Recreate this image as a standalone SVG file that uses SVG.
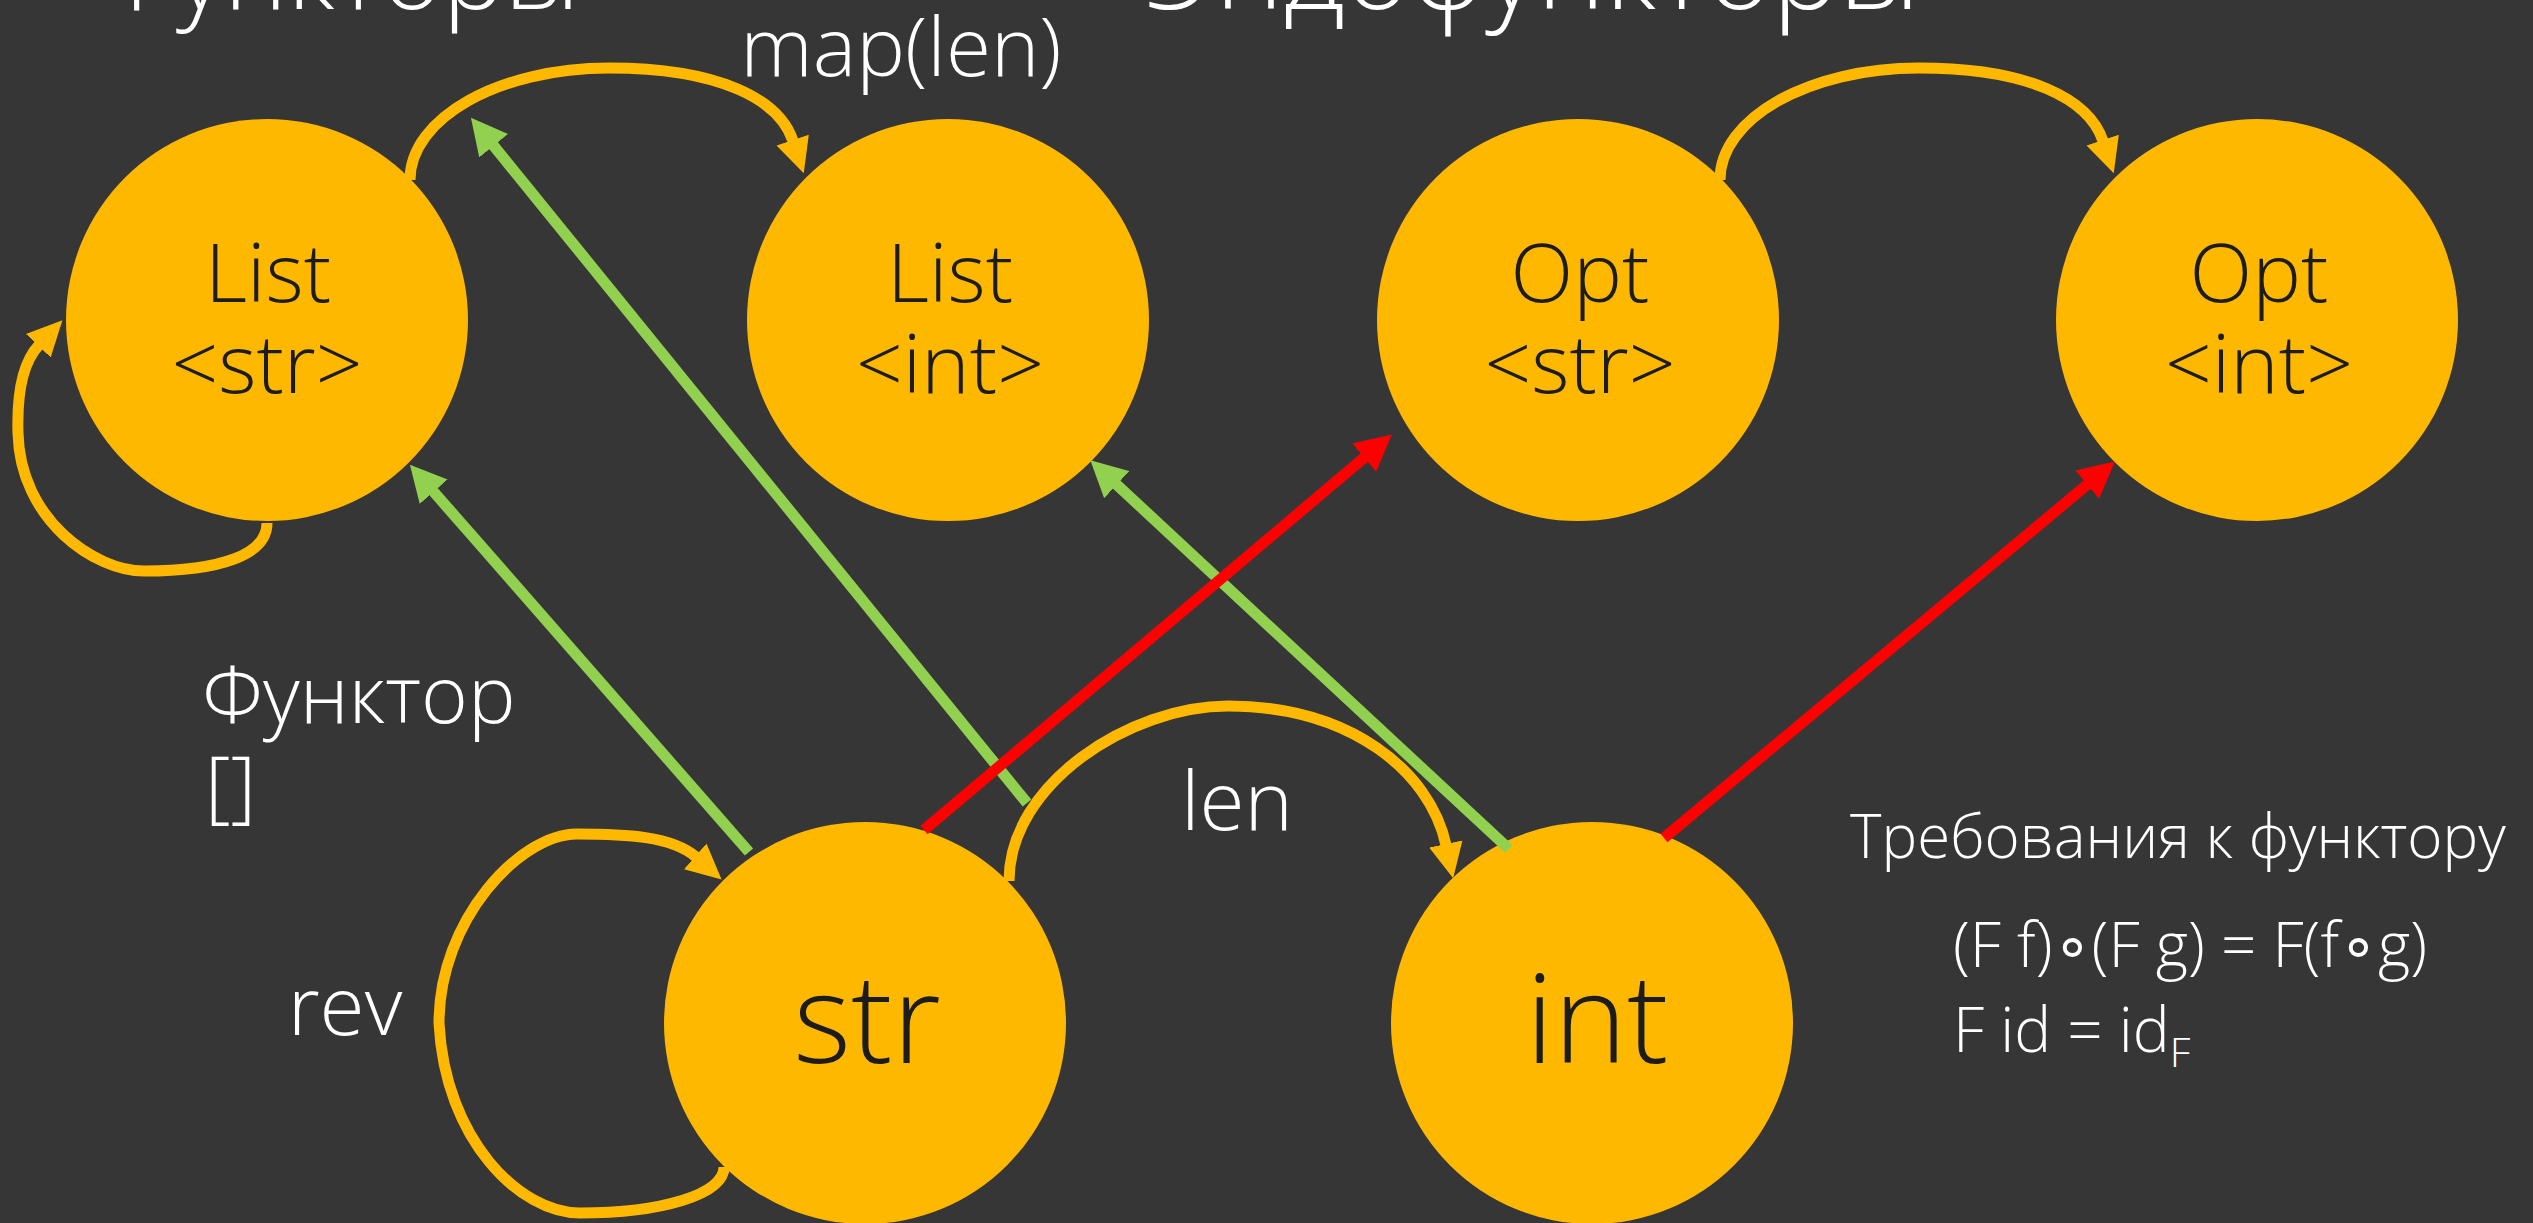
<svg xmlns="http://www.w3.org/2000/svg" width="2533" height="1223" viewBox="0 0 2533 1223">
  <style>
    .bg { fill: #363636; }
    .node { fill: #FFB800; }
    .ntext { fill: #1C1C1C; font-family: "Open Sans", "Noto Sans", "Liberation Sans", sans-serif; font-weight: 300; text-anchor: middle; }
    .label { fill: #FFFFFF; font-family: "Open Sans", "Noto Sans", "Liberation Sans", sans-serif; font-weight: 300; }
    .arc { fill: none; stroke: #FFB800; stroke-width: 11; }
    .fmap { fill: none; stroke: #92D050; stroke-width: 11; }
    .endo { fill: none; stroke: #FF0000; stroke-width: 11; }
  </style>
  <defs>
    <marker id="head-orange" viewBox="0 -18 36 36" markerUnits="userSpaceOnUse" markerWidth="36" markerHeight="36" refX="1" refY="0" orient="auto">
      <path d="M0,-17 L35,0 L0,17 Z" fill="#FFB800"/>
    </marker>
    <marker id="head-green" viewBox="0 -19 37 38" markerUnits="userSpaceOnUse" markerWidth="37" markerHeight="38" refX="1" refY="0" orient="auto">
      <path d="M0,-18.5 L36,0 L0,18.5 Z" fill="#92D050"/>
    </marker>
    <marker id="head-red" viewBox="0 -19 37 38" markerUnits="userSpaceOnUse" markerWidth="37" markerHeight="38" refX="1" refY="0" orient="auto">
      <path d="M0,-18.5 L36,0 L0,18.5 Z" fill="#FF0000"/>
    </marker>
  </defs>

  <rect class="bg" x="0" y="0" width="2533" height="1223"/>

  <!-- section titles, clipped by the top edge -->
  <text class="label" x="97" y="9" font-size="104">Функторы</text>
  <text class="label" x="1146" y="9" font-size="112">Эндофункторы</text>

  <!-- nodes -->
  <g id="list-str">
    <circle class="node" cx="267" cy="320" r="201"/>
    <text class="ntext" font-size="82"><tspan x="268" y="302">List</tspan><tspan x="267" y="393">&lt;str&gt;</tspan></text>
  </g>
  <g id="list-int">
    <circle class="node" cx="948" cy="320" r="201"/>
    <text class="ntext" font-size="82"><tspan x="950" y="302">List</tspan><tspan x="950" y="393">&lt;int&gt;</tspan></text>
  </g>
  <g id="opt-str">
    <circle class="node" cx="1578" cy="320" r="201"/>
    <text class="ntext" font-size="82"><tspan x="1580" y="302">Opt</tspan><tspan x="1580" y="393">&lt;str&gt;</tspan></text>
  </g>
  <g id="opt-int">
    <circle class="node" cx="2257" cy="320" r="201"/>
    <text class="ntext" font-size="82"><tspan x="2259" y="302">Opt</tspan><tspan x="2259" y="393">&lt;int&gt;</tspan></text>
  </g>
  <g id="str">
    <circle class="node" cx="865" cy="1023" r="201"/>
    <text class="ntext" x="867" y="1063" font-size="124">str</text>
  </g>
  <g id="int">
    <circle class="node" cx="1592" cy="1023" r="201"/>
    <text class="ntext" x="1597" y="1063" font-size="124">int</text>
  </g>

  <!-- connectors -->
  <g id="connectors">
    <!-- morphisms -->
    <path class="arc" d="M410,180 C410,118 499,68 609,68 C719,68 779,99 793,141" marker-end="url(#head-orange)"/>
    <path class="arc" d="M1720,180 C1720,118 1809,68 1919,68 C2029,68 2089,99 2103,141" marker-end="url(#head-orange)"/>
    <path class="arc" d="M1009,881 C1009,784 1130,706 1228,706 C1350,706 1430,771 1446,845" marker-end="url(#head-orange)"/>
    <path class="arc" d="M267,523 C267,555 220,571 144,571 C95,571 20,520 18,433 C17,400 20,365 39,345" marker-end="url(#head-orange)"/>
    <path class="arc" d="M724,1167 C724,1195 660,1213 580,1213 C520,1213 445,1140 439,1023 C439,920 520,834 577,834 C625,834 672,836 696,857" marker-end="url(#head-orange)"/>
    <!-- functor [] -->
    <path class="fmap" d="M749,852 L433,491" marker-end="url(#head-green)"/>
    <path class="fmap" d="M1027,803 L493,145" marker-end="url(#head-green)"/>
    <path class="fmap" d="M1509,849 L1116,484" marker-end="url(#head-green)"/>
    <!-- endofunctor -->
    <path class="endo" d="M924,830 L1365,457" marker-end="url(#head-red)"/>
    <path class="endo" d="M1664,838 L2088,484" marker-end="url(#head-red)"/>
  </g>

  <!-- labels -->
  <text class="label" x="901" y="76" font-size="82" text-anchor="middle">map(len)</text>
  <text class="label" x="1237" y="830" font-size="82" text-anchor="middle">len</text>
  <text class="label" x="345" y="1035" font-size="82" text-anchor="middle">rev</text>
  <text class="label" font-size="80"><tspan x="202" y="723">Функтор</tspan><tspan x="205" y="813">[]</tspan></text>

  <g id="laws">
    <text class="label" x="1850" y="858" font-size="60">Требования к функтору</text>
    <text class="label" font-size="62"><tspan x="1953" y="967">(F f)∘(F g) = F(f∘g)</tspan><tspan x="1953" y="1052">F id = id</tspan><tspan font-size="41" dy="15">F</tspan></text>
  </g>
</svg>
